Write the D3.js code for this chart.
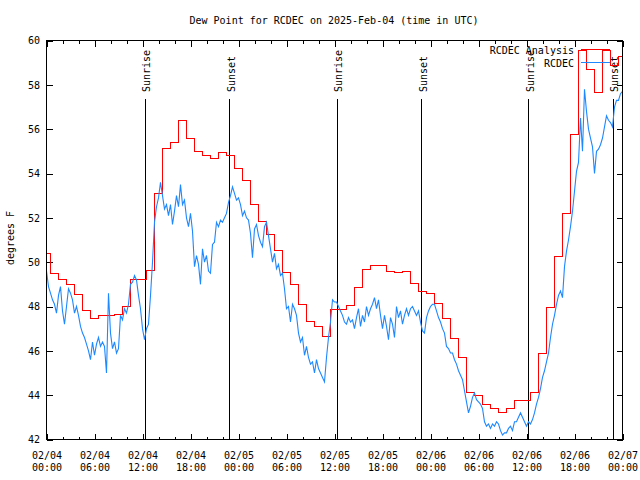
<!DOCTYPE html>
<html><head><meta charset="utf-8">
<script src="https://cdn.jsdelivr.net/npm/d3@7"></script>
<style>
body{margin:0;background:#fff;}
svg{display:block;font-family:"DejaVu Sans Mono",monospace;font-size:10px;}
</style></head><body>
<svg id="chart" width="640" height="480"></svg>
<script>
const title = "Dew Point for RCDEC on 2025-Feb-04 (time in UTC)";
const yLabel = "degrees F";
const seriesNames = ["RCDEC Analysis", "RCDEC"];
const xDomain = ["2025-02-04T00:00:00Z", "2025-02-07T00:00:00Z"];
const yDomain = [42, 60];
const yTicks = [42, 44, 46, 48, 50, 52, 54, 56, 58, 60];

// hourly analysis values, starting 2025-02-04 00:00 UTC
const analysisStart = "2025-02-04T00:00:00Z";
const analysisValues = [
  50.40, 49.50, 49.24, 48.97, 48.56, 47.80, 47.47, 47.61, 47.61, 47.62, 48.02, 49.20,
  49.20, 49.63, 53.10, 55.13, 55.40, 56.37, 55.58, 54.97, 54.82, 54.67, 54.94, 54.82,
  54.22, 53.68, 52.60, 51.83, 51.26, 50.52, 49.54, 48.97, 48.07, 47.32, 47.12, 46.65,
  47.88, 47.88, 48.06, 48.87, 49.68, 49.83, 49.83, 49.59, 49.54, 49.59, 49.05, 48.69,
  48.57, 48.15, 47.47, 46.57, 45.72, 44.10, 43.99, 43.60, 43.42, 43.24, 43.38, 43.74,
  43.78, 44.14, 45.86, 47.97, 50.27, 52.20, 55.76, 59.55, 58.68, 57.65, 59.55, 58.85,
  59.29
];

// station observations every 15 minutes, starting 2025-02-04 00:00 UTC (one row per hour)
const obsStart = "2025-02-04T00:00:00Z";
const obsStepMinutes = 15;
const obsValues = [
  49.6, 48.9, 48.6, 48.3,
  48.1, 47.7, 48.5, 48.9,
  47.8, 47.2, 48.0, 48.8,
  48.6, 48.3, 47.7, 48.0,
  47.6, 47.1, 46.8, 46.6,
  46.3, 46.0, 45.6, 46.4,
  45.8, 46.3, 46.6, 46.2,
  46.4, 46.2, 45.0, 48.6,
  46.8, 46.1, 46.4, 45.9,
  46.1, 47.6, 47.4, 47.9,
  47.7, 48.1, 49.0, 49.1,
  49.4, 49.2, 48.5, 47.9,
  47.0, 46.5, 47.0, 47.2,
  48.5, 50.0, 51.8, 52.5,
  52.9, 53.6, 53.0, 52.4,
  52.6, 52.1, 52.6, 51.7,
  52.3, 53.0, 52.5, 53.5,
  52.6, 52.8, 52.0, 51.6,
  52.2, 51.4, 49.8, 50.3,
  49.9, 49.0, 50.6, 50.0,
  50.3, 49.6, 49.5, 50.8,
  50.9, 51.8, 51.6, 51.9,
  51.8, 52.0, 52.2, 52.7,
  53.0, 53.4, 53.1, 52.8,
  52.9, 52.6, 52.1, 52.3,
  52.0, 51.9, 51.3, 50.2,
  51.5, 51.7, 51.2, 50.9,
  50.7, 51.6, 51.8, 51.2,
  50.6, 50.0, 50.4, 49.7,
  49.9, 49.4, 49.5, 48.8,
  47.9, 48.0, 47.3, 48.1,
  47.9, 47.6, 46.8, 46.4,
  46.6, 45.8, 46.2, 45.7,
  45.4, 45.5, 45.0, 45.6,
  45.2, 45.0, 44.8, 44.6,
  45.7, 46.6, 47.3, 48.3,
  48.2, 48.2, 48.0, 47.8,
  47.6, 47.3, 47.2, 47.5,
  47.3, 47.4, 47.0, 47.5,
  47.9, 47.1, 47.6, 47.3,
  48.0, 47.6, 47.9, 48.1,
  48.4, 47.9, 48.3, 47.6,
  47.0, 47.6, 47.1, 46.5,
  47.5, 47.2, 46.6, 48.0,
  47.5, 47.8, 47.2, 47.6,
  47.9, 47.6, 47.9, 48.0,
  47.8, 47.6, 47.8, 47.3,
  46.9, 46.8, 47.5, 47.8,
  48.0, 48.1, 48.1, 47.8,
  47.5, 47.3, 47.0, 46.8,
  46.2, 46.1, 45.9, 45.9,
  45.6, 45.4, 45.1, 44.9,
  44.7, 44.2, 43.7, 43.2,
  43.5, 43.9, 44.1, 43.8,
  43.7, 43.6, 43.4, 42.8,
  42.6, 42.7, 42.5, 42.7,
  42.6, 42.8, 42.7, 42.4,
  42.2, 42.3, 42.3, 42.5,
  42.6, 42.4, 42.8, 42.8,
  43.0, 43.2, 43.0, 42.8,
  42.6, 42.8, 42.7, 42.9,
  43.2, 43.6, 43.9, 44.3,
  44.8, 45.1, 45.5, 45.9,
  46.6, 47.2, 47.6, 48.1,
  48.5, 48.7, 48.4, 49.8,
  50.5, 51.0, 51.6, 52.3,
  53.2, 54.1, 54.5, 56.5,
  55.0, 57.8, 56.8, 56.0,
  55.6, 55.2, 54.0, 55.0,
  55.1, 55.3, 55.6, 56.1,
  56.6, 56.4, 56.3, 56.1,
  57.0, 57.3, 57.3, 57.6,
  57.7
];

const sunLabels = ["Sunrise", "Sunset", "Sunrise", "Sunset", "Sunrise", "Sunset"];
const sunTimes = ["2025-02-04T12:22:00Z", "2025-02-04T22:55:00Z", "2025-02-05T12:20:00Z",
                  "2025-02-05T22:55:00Z", "2025-02-06T12:18:00Z", "2025-02-06T22:50:00Z"];

// ---------- drawing ----------
const svg = d3.select("#chart");
const L = 46.5, R = 622.5, T = 40.5, B = 439.5;

const x = d3.scaleUtc().domain(xDomain.map(d => new Date(d))).range([L, R]);
const y = d3.scaleLinear().domain(yDomain).range([B, T]);

const aStart = new Date(analysisStart).getTime();
const analysis = analysisValues.map((v, i) => ({t: new Date(aStart + i * 3600e3), v}));
const oStart = new Date(obsStart).getTime();
const obs = obsValues.map((v, i) => ({t: new Date(oStart + i * obsStepMinutes * 60e3), v}));

const t0 = x.domain()[0], t1 = x.domain()[1];
const minorTicks = d3.utcHour.every(2).range(t0, new Date(+t1 + 1));
const majorTicks = d3.utcHour.every(6).range(t0, new Date(+t1 + 1));

function noDomain(g) { g.select(".domain").remove(); }

// bottom axis
svg.append("g").attr("transform", `translate(0,${B})`)
  .call(d3.axisBottom(x).tickValues(minorTicks).tickSize(-3).tickSizeOuter(0).tickFormat(""))
  .call(noDomain);
const bMaj = svg.append("g").attr("transform", `translate(0,${B})`)
  .call(d3.axisBottom(x).tickValues(majorTicks).tickSize(-6).tickSizeOuter(0).tickFormat(""))
  .call(noDomain);
bMaj.selectAll(".tick text").remove();
const fmtD = d3.utcFormat("%m/%d"), fmtH = d3.utcFormat("%H:%M");
bMaj.selectAll(".tick").each(function(d) {
  const t = d3.select(this).append("text").attr("fill", "#000").attr("text-anchor", "middle")
    .style("font-family", '"DejaVu Sans Mono", monospace').style("font-size", "10px");
  t.append("tspan").attr("x", 0).attr("y", 19).text(fmtD(d));
  t.append("tspan").attr("x", 0).attr("y", 31.5).text(fmtH(d));
});

// top axis
svg.append("g").attr("transform", `translate(0,${T})`)
  .call(d3.axisTop(x).tickValues(minorTicks).tickSize(-3).tickSizeOuter(0).tickFormat(""))
  .call(noDomain);
svg.append("g").attr("transform", `translate(0,${T})`)
  .call(d3.axisTop(x).tickValues(majorTicks).tickSize(-6).tickSizeOuter(0).tickFormat(""))
  .call(noDomain);

// left axis
const lAx = svg.append("g").attr("transform", `translate(${L},0)`)
  .call(d3.axisLeft(y).tickValues(yTicks).tickSize(-6).tickPadding(6.5).tickSizeOuter(0).tickFormat(d3.format("d")))
  .call(noDomain);
lAx.selectAll("text").attr("fill", "#000")
  .style("font-family", '"DejaVu Sans Mono", monospace').style("font-size", "10px");
// right axis
svg.append("g").attr("transform", `translate(${R},0)`)
  .call(d3.axisRight(y).tickValues(yTicks).tickSize(-6).tickSizeOuter(0).tickFormat(""))
  .call(noDomain);

svg.selectAll(".tick line").attr("stroke", "#000").attr("shape-rendering", "crispEdges");

// sunrise / sunset markers
const sunG = svg.append("g");
sunTimes.forEach((s, i) => {
  const sx = x(new Date(s));
  sunG.append("line").attr("x1", sx).attr("x2", sx).attr("y1", 99).attr("y2", B)
    .attr("stroke", "#000").attr("stroke-width", 1).attr("shape-rendering", "crispEdges");
  sunG.append("text").attr("transform", `translate(${sx + 5},92) rotate(-90)`)
    .attr("text-anchor", "start").attr("fill", "#000").text(sunLabels[i]);
});

// analysis step line
svg.append("path").datum(analysis)
  .attr("fill", "none").attr("stroke", "#ff0000").attr("stroke-width", 1)
  .attr("shape-rendering", "crispEdges")
  .attr("d", d3.line().x(d => x(d.t)).y(d => y(d.v)).curve(d3.curveStep));

// observations line
svg.append("path").datum(obs)
  .attr("fill", "none").attr("stroke", "#1e88ff").attr("stroke-width", 1.1)
  .attr("d", d3.line().x(d => x(d.t)).y(d => y(d.v)));

// frame
svg.append("rect").attr("x", L).attr("y", T).attr("width", R - L).attr("height", B - T)
  .attr("fill", "none").attr("stroke", "#000").attr("stroke-width", 1).attr("shape-rendering", "crispEdges");

// legend
const legColors = ["#ff0000", "#1e88ff"];
seriesNames.forEach((n, i) => {
  const ly = 49.5 + i * 13;
  svg.append("text").attr("x", 574).attr("y", ly + 4.5).attr("text-anchor", "end").attr("fill", "#000").text(n);
  svg.append("line").attr("x1", 581).attr("x2", 610).attr("y1", ly).attr("y2", ly)
    .attr("stroke", legColors[i]).attr("stroke-width", 1).attr("shape-rendering", "crispEdges");
});

// title and y label
svg.append("text").attr("x", 334).attr("y", 24).attr("text-anchor", "middle").attr("fill", "#000").text(title);
svg.append("text").attr("transform", "translate(14,238) rotate(-90)").attr("text-anchor", "middle")
  .attr("fill", "#000").text(yLabel);
</script>
</body></html>
